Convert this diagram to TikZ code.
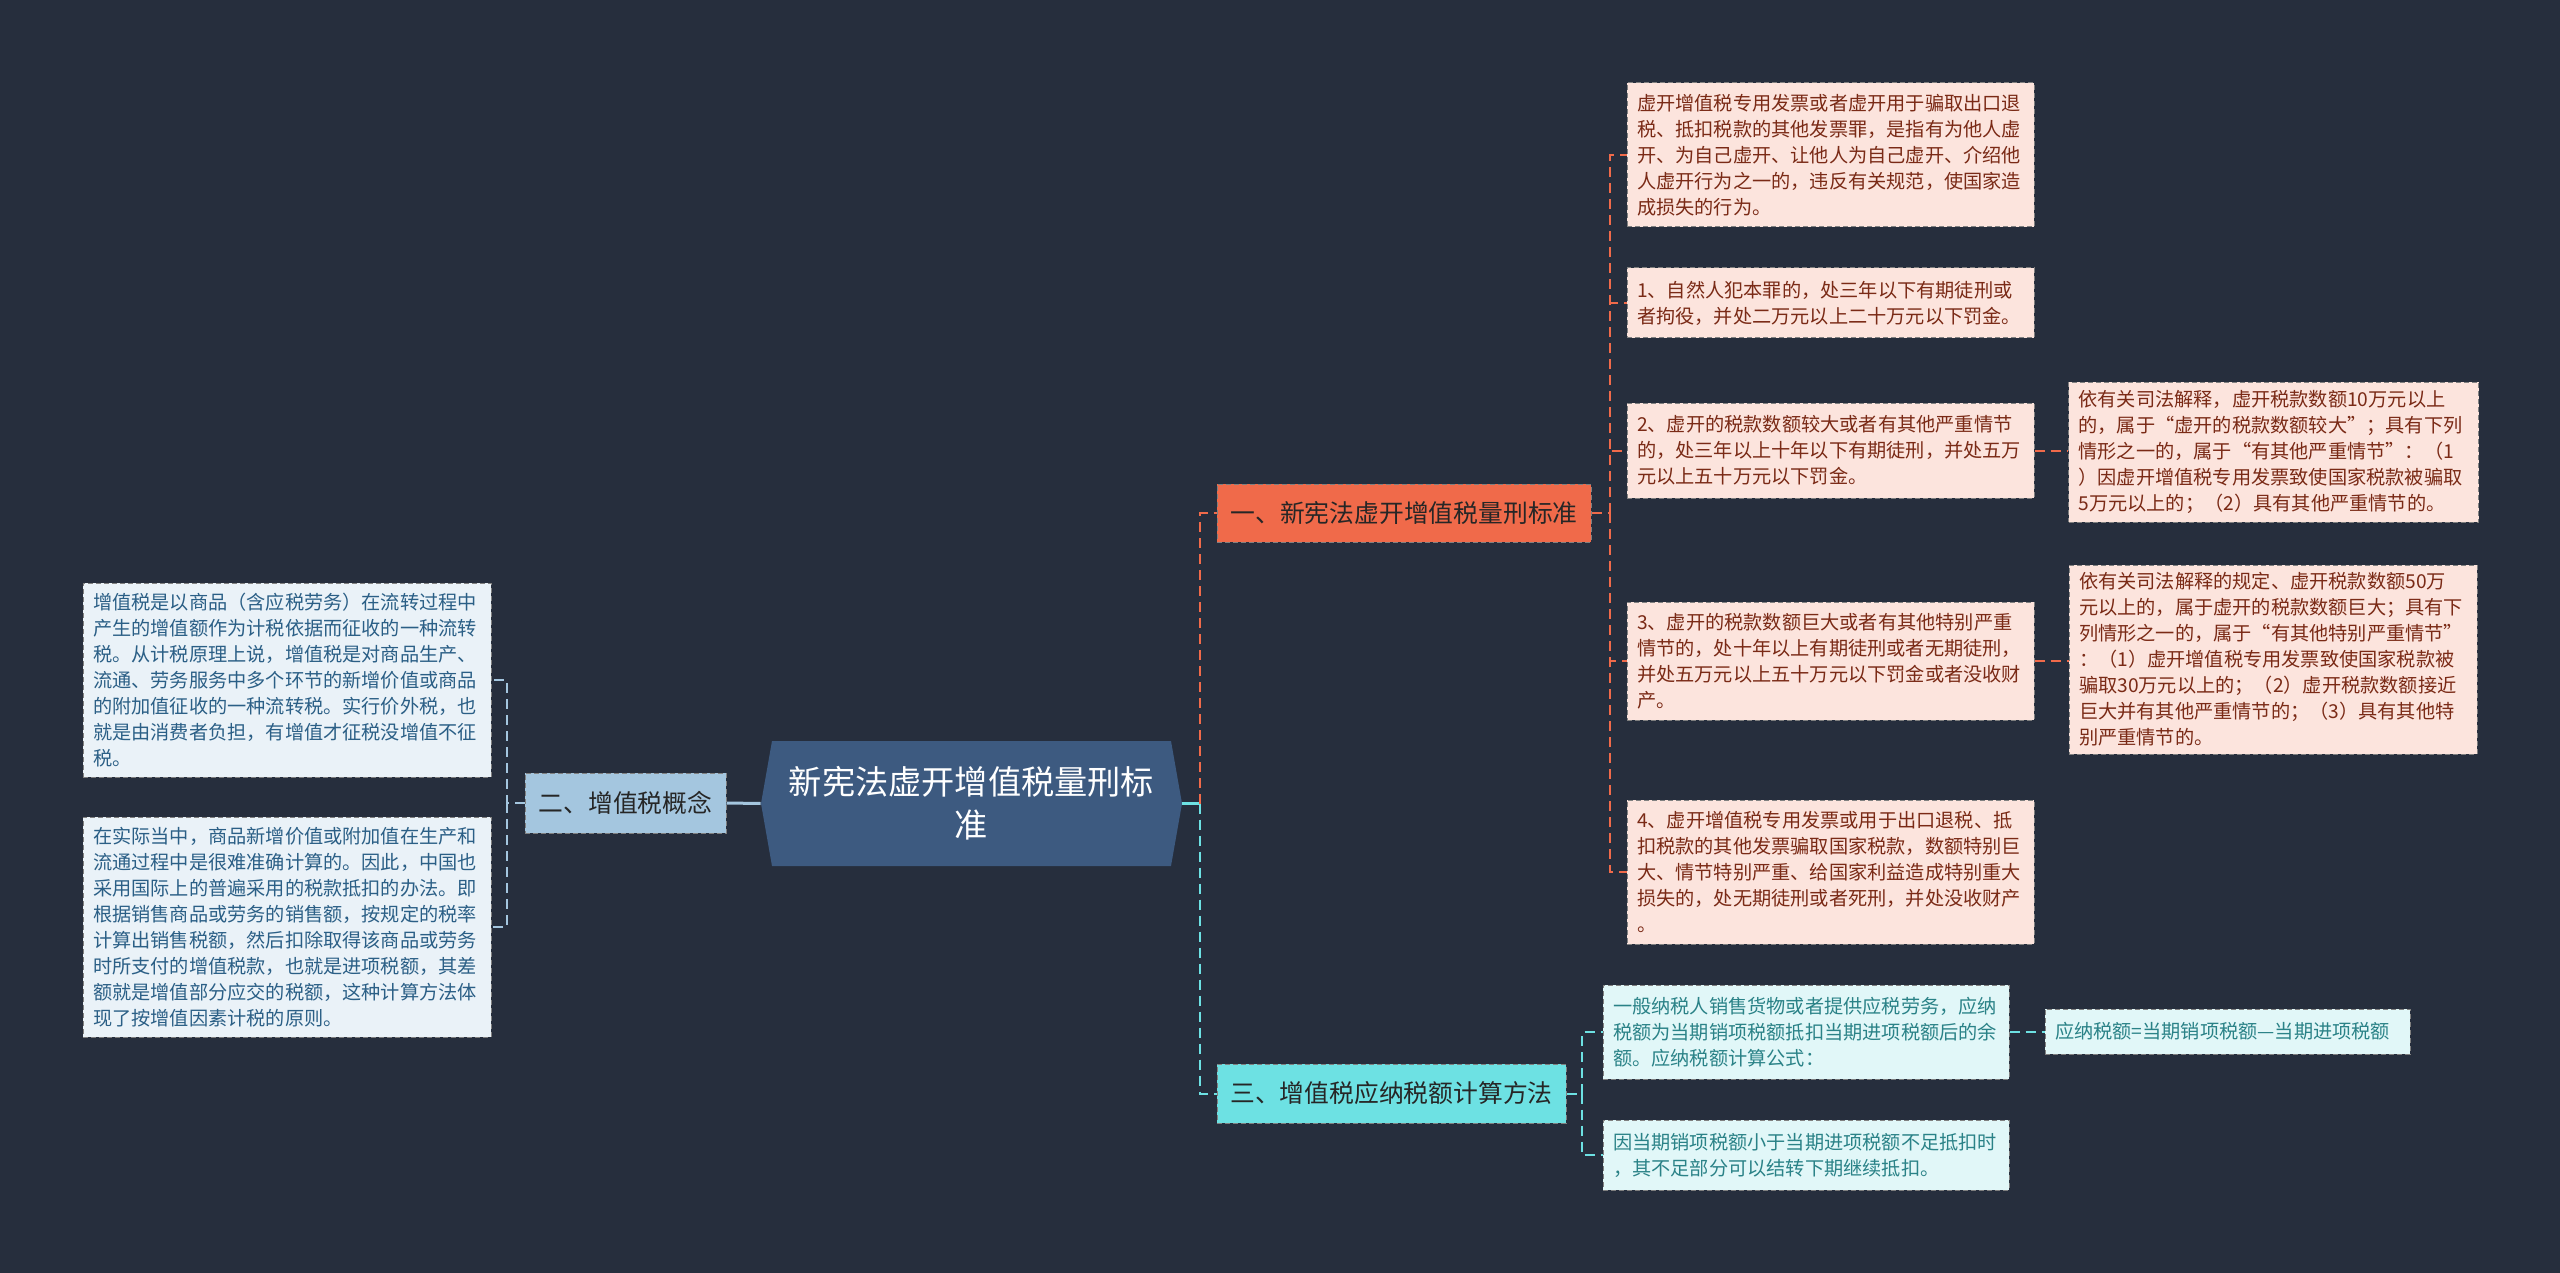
\documentclass[tikz,border=0pt]{standalone}
\usepackage{fontspec}
\usepackage{tikz}
\usetikzlibrary{calc}
\newfontfamily\cjk{Noto Sans CJK SC}
\definecolor{bg}{HTML}{262E3D}
\definecolor{hubc}{HTML}{3D5A80}
\definecolor{sky}{HTML}{A4C6DF}
\definecolor{skyl}{HTML}{EAF2F8}
\definecolor{skyt}{HTML}{2B5F86}
\definecolor{tang}{HTML}{F06A4A}
\definecolor{tangl}{HTML}{FCE4DD}
\definecolor{tangt}{HTML}{7A2A16}
\definecolor{aqua}{HTML}{6DE1E3}
\definecolor{aqual}{HTML}{E1F7F8}
\definecolor{aquat}{HTML}{2A8287}
\newcommand{\leaffont}{\cjk\fontsize{9.6}{13}\selectfont}
\newcommand{\branchfont}{\cjk\fontsize{12.4}{15}\selectfont}

\begin{document}
\begin{tikzpicture}[x=0.5pt,y=-0.5pt,
  box/.style={draw=black!50,dash pattern=on 2.5pt off 1.5pt,line width=0.5pt},
  leaf/.style={box,font=\leaffont,align=left,inner xsep=5pt,inner ysep=0pt,text width=193.5pt},
  branch/.style={box,font=\branchfont,inner sep=0pt,text=black!85},
  link/.style={line width=1pt,dash pattern=on 5pt off 3pt}]
  \fill[bg] (0,0) rectangle (2560,1273);
  \coordinate (hubpos) at (971.5,803.5);
  \fill[hubc] ($(hubpos)+(-199.5,-62.5)$) -- ($(hubpos)+(-210.5,0)$) -- ($(hubpos)+(-199.5,62.5)$)
    -- ($(hubpos)+(199.5,62.5)$) -- ($(hubpos)+(210.5,0)$) -- ($(hubpos)+(199.5,-62.5)$) -- cycle;
  \node (hub) at (hubpos) [minimum width=210.5pt,minimum height=62.5pt,inner sep=0pt,align=center,
    text=white,font=\cjk\fontsize{16.6}{21.5}\selectfont] {新宪法虚开增值税量刑标\\准};

  \node (concept) at (625.5,803) [branch,fill=sky,minimum width=100.5pt,minimum height=30pt] {二、增值税概念};
  \node (crime) at (1404,513) [branch,fill=tang,minimum width=187pt,minimum height=29pt] {一、新宪法虚开增值税量刑标准};
  \node (calc) at (1391.5,1093.5) [branch,fill=aqua,minimum width=174.5pt,minimum height=29.5pt] {三、增值税应纳税额计算方法};

  \node (def) at (287,680) [leaf,fill=skyl,text=skyt,text width=194pt,minimum height=97pt] {增值税是以商品（含应税劳务）在流转过程中\\产生的增值额作为计税依据而征收的一种流转\\税。从计税原理上说，增值税是对商品生产、\\流通、劳务服务中多个环节的新增价值或商品\\的附加值征收的一种流转税。实行价外税，也\\就是由消费者负担，有增值才征税没增值不征\\税。};
  \node (deduct) at (287,927) [leaf,fill=skyl,text=skyt,text width=194pt,minimum height=110pt] {在实际当中，商品新增价值或附加值在生产和\\流通过程中是很难准确计算的。因此，中国也\\采用国际上的普遍采用的税款抵扣的办法。即\\根据销售商品或劳务的销售额，按规定的税率\\计算出销售税额，然后扣除取得该商品或劳务\\时所支付的增值税款，也就是进项税额，其差\\额就是增值部分应交的税额，这种计算方法体\\现了按增值因素计税的原则。};

  \node (crimea) at (1830.5,155) [leaf,fill=tangl,text=tangt,minimum height=72pt] {虚开增值税专用发票或者虚开用于骗取出口退\\税、抵扣税款的其他发票罪，是指有为他人虚\\开、为自己虚开、让他人为自己虚开、介绍他\\人虚开行为之一的，违反有关规范，使国家造\\成损失的行为。};
  \node (crimeb) at (1830.5,303) [leaf,fill=tangl,text=tangt,minimum height=35pt] {1、自然人犯本罪的，处三年以下有期徒刑或\\者拘役，并处二万元以上二十万元以下罚金。};
  \node (crimec) at (1830.5,450.5) [leaf,fill=tangl,text=tangt,minimum height=47.5pt] {2、虚开的税款数额较大或者有其他严重情节\\的，处三年以上十年以下有期徒刑，并处五万\\元以上五十万元以下罚金。};
  \node (crimed) at (1830.5,661) [leaf,fill=tangl,text=tangt,minimum height=59pt] {3、虚开的税款数额巨大或者有其他特别严重\\情节的，处十年以上有期徒刑或者无期徒刑，\\并处五万元以上五十万元以下罚金或者没收财\\产。};
  \node (crimee) at (1830.5,872) [leaf,fill=tangl,text=tangt,minimum height=72pt] {4、虚开增值税专用发票或用于出口退税、抵\\扣税款的其他发票骗取国家税款，数额特别巨\\大、情节特别严重、给国家利益造成特别重大\\损失的，处无期徒刑或者死刑，并处没收财产\\。};
  \node (notec) at (2273.5,452) [leaf,fill=tangl,text=tangt,text width=195pt,minimum height=70pt] {依有关司法解释，虚开税款数额10万元以上\\的，属于“虚开的税款数额较大”；具有下列\\情形之一的，属于“有其他严重情节”：（1\\）因虚开增值税专用发票致使国家税款被骗取\\5万元以上的；（2）具有其他严重情节的。};
  \node (noted) at (2273,659.5) [leaf,fill=tangl,text=tangt,text width=194pt,minimum height=94.5pt] {依有关司法解释的规定、虚开税款数额50万\\元以上的，属于虚开的税款数额巨大；具有下\\列情形之一的，属于“有其他特别严重情节”\\：（1）虚开增值税专用发票致使国家税款被\\骗取30万元以上的；（2）虚开税款数额接近\\巨大并有其他严重情节的；（3）具有其他特\\别严重情节的。};

  \node (calca) at (1806,1032) [leaf,fill=aqual,text=aquat,text width=193pt,minimum height=47pt] {一般纳税人销售货物或者提供应税劳务，应纳\\税额为当期销项税额抵扣当期进项税额后的余\\额。应纳税额计算公式：};
  \node (calcb) at (1806,1155) [leaf,fill=aqual,text=aquat,text width=193pt,minimum height=35pt] {因当期销项税额小于当期进项税额不足抵扣时\\，其不足部分可以结转下期继续抵扣。};
  \node (formula) at (2227.5,1031.5) [leaf,fill=aqual,text=aquat,text width=172.5pt,minimum height=22.5pt] {应纳税额=当期销项税额—当期进项税额};

  \coordinate (hubr) at (1200,803.5);
  \coordinate (lj) at (507,803);
  \coordinate (oj) at (1610,513);
  \coordinate (aj) at (1582,1093.5);
  \draw[sky,line width=1.5pt] (hub.west) -- (concept.east);
  \draw[aqua,line width=1.5pt] (hub.east) -- (hubr);
  \draw[link,tang] (hubr) |- (crime.west);
  \draw[link,aqua] (hubr) |- (calc.west);
  \draw[link,sky] (concept.west) -- (lj) |- (def.east);
  \draw[link,sky] (lj) |- (deduct.east);
  \draw[link,tang] (crime.east) -- (oj);
  \foreach \n in {crimea,crimeb,crimec,crimed,crimee} \draw[link,tang] (oj) |- (\n.west);
  \draw[link,tang] (crimec.east) -- (notec.west |- crimec.east);
  \draw[link,tang] (crimed.east) -- (noted.west |- crimed.east);
  \draw[link,aqua] (calc.east) -- (aj);
  \foreach \n in {calca,calcb} \draw[link,aqua] (aj) |- (\n.west);
  \draw[link,aqua] (calca.east) -- (formula.west |- calca.east);
\end{tikzpicture}
\end{document}
